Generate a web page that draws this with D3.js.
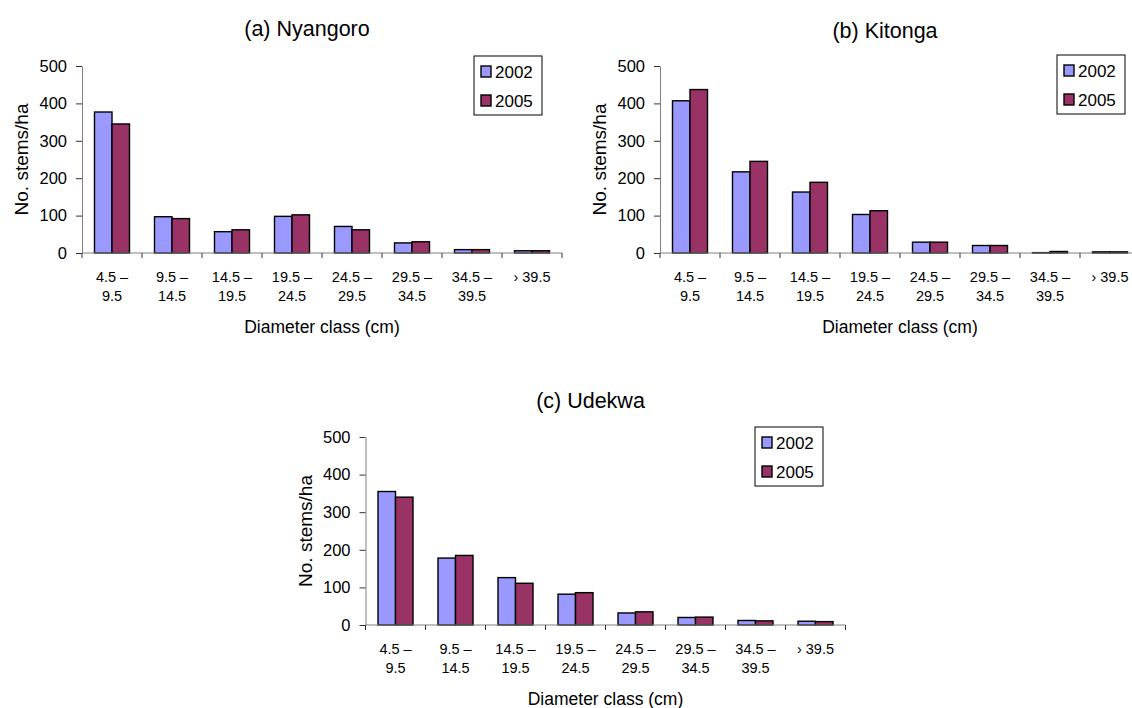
<!DOCTYPE html>
<html>
<head>
<meta charset="utf-8">
<title>Diameter class distribution</title>
<script src="https://d3js.org/d3.v7.min.js"></script>
<style>
  body { margin: 0; background: #fff; }
  svg { font-family: "Liberation Sans", Arial, sans-serif; }
  .bar { stroke: #000; stroke-width: 1.4; }
  .axis path { stroke: #808080; }
  .axis line { stroke: #333; }
</style>
</head>
<body>
<svg width="1132" height="708"></svg>
<script>
// diameter classes, two text lines each
var classes = ["4.5 – 9.5", "9.5 – 14.5", "14.5 – 19.5", "19.5 – 24.5",
               "24.5 – 29.5", "29.5 – 34.5", "34.5 – 39.5", "› 39.5"];
var classLines = [["4.5 –", "9.5"], ["9.5 –", "14.5"], ["14.5 –", "19.5"], ["19.5 –", "24.5"],
                  ["24.5 –", "29.5"], ["29.5 –", "34.5"], ["34.5 –", "39.5"], ["› 39.5"]];
var years = ["2002", "2005"];
var yTicks = [0, 100, 200, 300, 400, 500];

// stems per ha
var nyangoro2002 = [377, 97, 57, 98, 71, 27, 9, 6];
var nyangoro2005 = [345, 92, 62, 102, 62, 30, 9, 6];
var kitonga2002 = [407, 217, 163, 103, 29, 20, 1, 3];
var kitonga2005 = [437, 245, 189, 113, 29, 20, 4, 3];
var udekwa2002 = [355, 178, 126, 82, 32, 20, 12, 10];
var udekwa2005 = [340, 185, 111, 86, 35, 21, 11, 9];

var colors = {"2002": "#9999ff", "2005": "#993366"};

// each panel is cut at the right edge of the page, like the source figure
var panels = [
  {title: "(a) Nyangoro", s: [nyangoro2002, nyangoro2005], x0: 82, top: 66, bottom: 253,
   titleY: 36, legX: 474, legY: 56},
  {title: "(b) Kitonga", s: [kitonga2002, kitonga2005], x0: 660, top: 66, bottom: 253,
   titleY: 38, legX: 1057, legY: 55},
  {title: "(c) Udekwa", s: [udekwa2002, udekwa2005], x0: 365.5, top: 437, bottom: 625,
   titleY: 408, legX: 755, legY: 427}
];
var step = 60;

var svg = d3.select("svg");

panels.forEach(function(p) {
  var g = svg.append("g");
  var x1 = p.x0 + step * classes.length;

  var x = d3.scaleBand().domain(classes).range([p.x0, x1]).padding(0);
  // the pair of bars takes about 35/60 of each class, centred
  var xi = d3.scaleBand().domain(years)
    .range([x.bandwidth() * 12.5 / 60, x.bandwidth() * 47.5 / 60]).padding(0);
  var y = d3.scaleLinear().domain([0, 500]).range([p.bottom, p.top]);

  // bars
  years.forEach(function(yr, k) {
    g.selectAll(".b" + yr)
      .data(p.s[k])
      .enter().append("rect")
      .attr("class", "bar")
      .attr("x", function(d, i) { return x(classes[i]) + xi(yr); })
      .attr("y", function(d) { return y(d); })
      .attr("width", xi.bandwidth())
      .attr("height", function(d) { return y(0) - y(d); })
      .attr("fill", colors[yr]);
  });

  // y axis
  var ya = g.append("g").attr("class", "axis")
    .attr("transform", "translate(" + p.x0 + ",0)")
    .call(d3.axisLeft(y).tickValues(yTicks).tickSize(6).tickPadding(9).tickSizeOuter(0));
  ya.selectAll("text").style("font-size", "16.5px").attr("fill", "#000");

  // x axis, ticks on the class boundaries
  var xa = g.append("g").attr("class", "axis")
    .attr("transform", "translate(0," + p.bottom + ")");
  xa.append("line").attr("x1", p.x0).attr("x2", x1).style("stroke", "#808080");
  xa.selectAll(".tk")
    .data(classes.concat(["end"]))
    .enter().append("line")
    .attr("x1", function(d, i) { return p.x0 + i * x.step(); })
    .attr("x2", function(d, i) { return p.x0 + i * x.step(); })
    .attr("y1", 0).attr("y2", 5);

  var lab = g.selectAll(".cl")
    .data(classLines)
    .enter().append("text")
    .attr("text-anchor", "middle")
    .style("font-size", "14.5px")
    .attr("transform", function(d, i) {
      return "translate(" + (x(classes[i]) + x.bandwidth() / 2) + "," + (p.bottom + 29) + ")";
    });
  lab.selectAll("tspan")
    .data(function(d) { return d; })
    .enter().append("tspan")
    .attr("x", 0)
    .attr("dy", function(d, j) { return j === 0 ? 0 : 19; })
    .text(function(d) { return d; });

  // titles
  g.append("text")
    .attr("x", (p.x0 + x1) / 2 - 15)
    .attr("y", p.titleY)
    .attr("text-anchor", "middle")
    .style("font-size", "21.5px")
    .text(p.title);

  g.append("text")
    .attr("x", (p.x0 + x1) / 2)
    .attr("y", p.bottom + 80)
    .attr("text-anchor", "middle")
    .style("font-size", "17.5px")
    .text("Diameter class (cm)");

  g.append("text")
    .attr("transform", "translate(" + (p.x0 - 54) + "," + ((p.top + p.bottom) / 2) + ") rotate(-90)")
    .attr("text-anchor", "middle")
    .style("font-size", "19px")
    .text("No. stems/ha");

  // legend
  var leg = g.append("g").attr("transform", "translate(" + p.legX + "," + p.legY + ")");
  leg.append("rect")
    .attr("width", 68).attr("height", 59)
    .attr("fill", "#fff").attr("stroke", "#000").attr("stroke-width", 1);
  years.forEach(function(yr, k) {
    leg.append("rect")
      .attr("class", "bar")
      .attr("x", 7).attr("y", 10 + k * 29)
      .attr("width", 10).attr("height", 11)
      .attr("fill", colors[yr]);
    leg.append("text")
      .attr("x", 21).attr("y", 22 + k * 29)
      .style("font-size", "17px")
      .text(yr);
  });
});
</script>
</body>
</html>
